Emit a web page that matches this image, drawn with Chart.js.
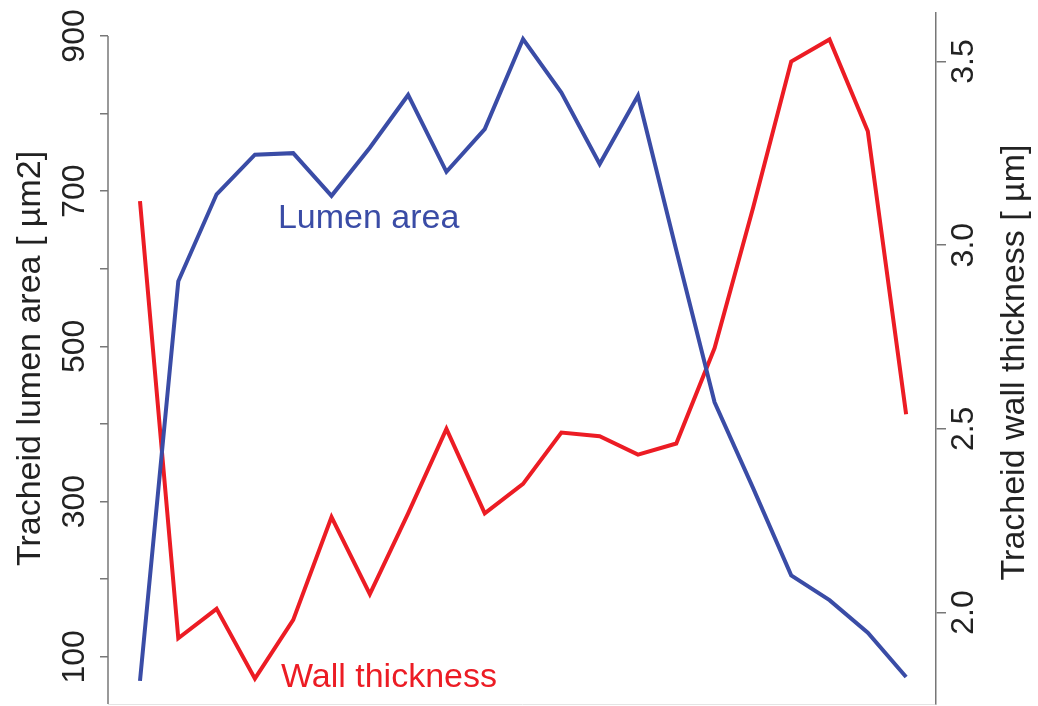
<!DOCTYPE html>
<html>
<head>
<meta charset="utf-8">
<script src="https://cdn.jsdelivr.net/npm/chart.js@4"></script>
<style>
  html, body { margin: 0; padding: 0; background: #fff; overflow: hidden; }
  #wrap { width: 1038px; height: 706px; }
</style>
</head>
<body>
<div id="wrap"><canvas id="c" width="1038" height="706"></canvas></div>
<script>
// --- data ---
const position = [1, 2, 3, 4, 5, 6, 7, 8, 9, 10, 11, 12, 13, 14, 15, 16, 17, 18, 19, 20, 21];
const lumenArea = [69, 584, 696, 747, 749, 694, 756, 824, 725, 780, 896, 827, 735, 823, 624, 428, 318, 205, 173, 131, 74];
const wallThickness = [3.12, 1.93, 2.01, 1.82, 1.98, 2.26, 2.05, 2.27, 2.50, 2.27, 2.35, 2.49, 2.48, 2.43, 2.46, 2.72, 3.10, 3.50, 3.56, 3.31, 2.54];

const leftTicks = [100, 200, 300, 400, 500, 600, 700, 800, 900];
const leftLabelled = [100, 300, 500, 700, 900];
const rightTicks = [2.0, 2.5, 3.0, 3.5];

const leftTitle = 'Tracheid lumen area [ \u00b5m2]';
const rightTitle = 'Tracheid wall thickness [ \u00b5m]';
const lumenNote = { text: 'Lumen area', x: 4.6, y: 652 };
const wallNote = { text: 'Wall thickness', x: 4.68, y: 1.797 };

const BLUE = '#3a4ca6';
const RED = '#ec1c24';
const AXIS = '#777';
const FONT = "'Liberation Sans', Arial, sans-serif";

// left axis line starts at its top tick (R style); right title reads
// bottom-to-top; the two curve labels sit inside the plot
const notes = {
  id: 'notes',
  afterDraw(chart) {
    const { ctx, scales, chartArea } = chart;
    const yL = scales.yL;
    ctx.save();
    ctx.strokeStyle = AXIS;
    ctx.lineWidth = 1.5;
    ctx.beginPath();
    ctx.moveTo(yL.right, yL.getPixelForValue(leftTicks[leftTicks.length - 1]));
    ctx.lineTo(yL.right, chartArea.bottom);
    ctx.stroke();

    ctx.font = '34px ' + FONT;
    ctx.textBaseline = 'alphabetic';
    ctx.textAlign = 'left';
    ctx.fillStyle = BLUE;
    ctx.fillText(lumenNote.text, scales.x.getPixelForValue(lumenNote.x), yL.getPixelForValue(lumenNote.y));
    ctx.fillStyle = RED;
    ctx.fillText(wallNote.text, scales.x.getPixelForValue(wallNote.x), scales.yR.getPixelForValue(wallNote.y));

    ctx.fillStyle = '#222';
    ctx.translate(scales.yR.right - 23, (chartArea.top + chartArea.bottom) / 2 + 4);
    ctx.rotate(-Math.PI / 2);
    ctx.textAlign = 'center';
    ctx.textBaseline = 'middle';
    ctx.fillText(rightTitle, 0, 0);
    ctx.restore();
  }
};

// fixed box sizes so the plot area lands where the original one is
const fixWidth = w => s => {
  s.width = w;
  s.paddingTop = 0;
  s.paddingBottom = 0;
};

new Chart(document.getElementById('c'), {
  type: 'line',
  data: {
    labels: position,
    datasets: [
      {
        label: 'Lumen area',
        data: position.map((p, i) => ({ x: p, y: lumenArea[i] })),
        yAxisID: 'yL',
        borderColor: BLUE,
        borderWidth: 4,
        pointRadius: 0,
        tension: 0,
        fill: false
      },
      {
        label: 'Wall thickness',
        data: position.map((p, i) => ({ x: p, y: wallThickness[i] })),
        yAxisID: 'yR',
        borderColor: RED,
        borderWidth: 4,
        pointRadius: 0,
        tension: 0,
        fill: false
      }
    ]
  },
  options: {
    responsive: false,
    animation: false,
    layout: { padding: { top: 13, left: 0, right: 0, bottom: 0 } },
    plugins: { legend: { display: false }, tooltip: { enabled: false } },
    scales: {
      x: {
        type: 'linear',
        min: 0.165,
        max: 21.78,
        ticks: { display: false },
        grid: { display: false },
        border: { color: '#e4e4e4', width: 1 },
        afterFit: s => { s.height = 2; s.paddingLeft = 0; s.paddingRight = 0; }
      },
      yL: {
        position: 'left',
        min: 39.2,
        max: 929.6,
        afterBuildTicks: s => { s.ticks = leftTicks.map(v => ({ value: v })); },
        afterFit: fixWidth(108),
        ticks: {
          minRotation: 90,
          maxRotation: 90,
          crossAlign: 'center',
          padding: -2,
          color: '#222',
          font: { family: FONT, size: 32 },
          callback: v => leftLabelled.includes(v) ? String(v) : ''
        },
        grid: { display: true, drawOnChartArea: false, drawTicks: true, tickLength: 8, color: AXIS, lineWidth: 1.5 },
        border: { display: false },
        title: {
          display: true,
          text: leftTitle,
          color: '#222',
          font: { family: FONT, size: 34 },
          padding: { top: 10, bottom: 0 }
        }
      },
      yR: {
        position: 'right',
        min: 1.751,
        max: 3.632,
        afterBuildTicks: s => { s.ticks = rightTicks.map(v => ({ value: v })); },
        afterFit: fixWidth(102),
        ticks: {
          minRotation: 90,
          maxRotation: 90,
          crossAlign: 'center',
          padding: -4,
          color: '#222',
          font: { family: FONT, size: 32 },
          callback: v => v.toFixed(1)
        },
        grid: { display: true, drawOnChartArea: false, drawTicks: true, tickLength: 10, color: AXIS, lineWidth: 1.5 },
        border: { color: AXIS, width: 1.5 }
      }
    }
  },
  plugins: [notes]
});
</script>
</body>
</html>
